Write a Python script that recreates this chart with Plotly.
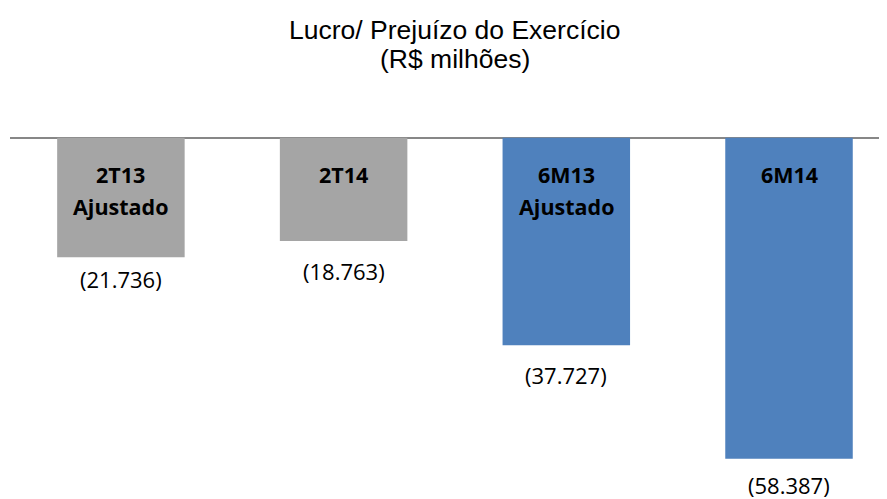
import plotly.graph_objects as go

categories = ["2T13 Ajustado", "2T14", "6M13 Ajustado", "6M14"]
values = [-21.736, -18.763, -37.727, -58.387]
value_labels = ["(21.736)", "(18.763)", "(37.727)", "(58.387)"]
title_lines = ["Lucro/ Prejuízo do Exercício", "(R$ milhões)"]

colors = ["#A5A5A5", "#A5A5A5", "#4F81BD", "#4F81BD"]
label_gap = [-22, -30, -30, -26]

x_idx = list(range(len(categories)))

fig = go.Figure()
fig.add_trace(go.Bar(
    x=x_idx, y=values, width=0.5725,
    marker=dict(color=colors, line=dict(width=0)),
    hoverinfo="skip",
))

for i, (v, lab, g) in enumerate(zip(values, value_labels, label_gap)):
    fig.add_annotation(x=i, y=v, text=lab, showarrow=False, yanchor="middle",
                       yshift=g, font=dict(family="Open Sans", size=22, color="#000000"))
    for k, line in enumerate(categories[i].split(" ")):
        fig.add_annotation(x=i, y=0, text="<b>" + line + "</b>", showarrow=False,
                           yanchor="middle", yshift=-37 - 32 * k,
                           font=dict(family="Open Sans", size=21.5, color="#000000"))

for k, (t, yy) in enumerate(zip(title_lines, [1.1754, 1.1028])):
    fig.add_annotation(x=0.5074, y=yy, xref="paper", yref="paper", text=t,
                       showarrow=False, xanchor="center", yanchor="middle",
                       font=dict(family="Liberation Sans", size=26.5, color="#000000"))

fig.update_layout(
    width=879, height=491,
    margin=dict(l=2, r=0, t=92, b=0),
    paper_bgcolor="white", plot_bgcolor="white",
    showlegend=False,
    xaxis=dict(range=[-0.498, 3.44], showticklabels=False, showgrid=False,
               zeroline=False, showline=False, fixedrange=True),
    yaxis=dict(range=[-65.69, 6.855], showticklabels=False, showgrid=False,
               zeroline=True, zerolinecolor="#878787", zerolinewidth=2,
               showline=False, fixedrange=True),
)

fig.write_html("out.html")
